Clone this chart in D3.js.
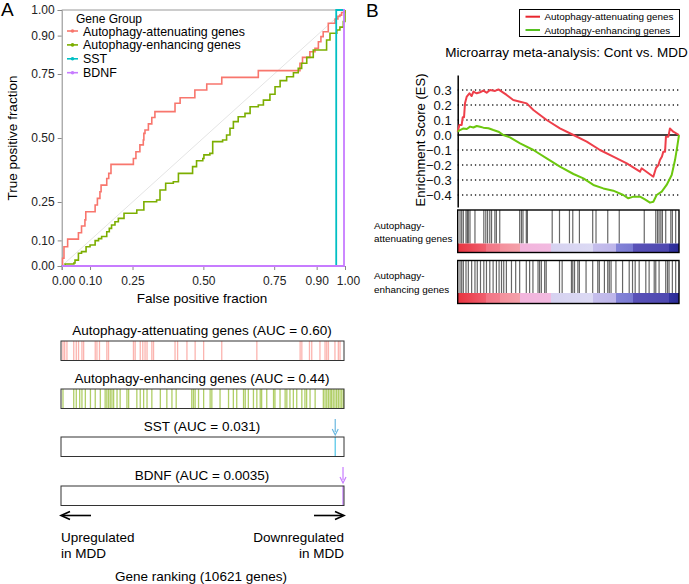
<!DOCTYPE html>
<html>
<head>
<meta charset="utf-8">
<script src="https://cdn.jsdelivr.net/npm/d3@7"></script>
<style>
  body { margin: 0; background: #fff; }
  svg { display: block; font-family: "Liberation Sans", Arial, sans-serif; }
</style>
</head>
<body>
<svg id="chart" width="689" height="584"></svg>
<script>
// ---------------- DATA ----------------
const rocTicks = [0, 0.1, 0.25, 0.5, 0.75, 0.9, 1];
const legendGroups = ["Autophagy-attenuating genes", "Autophagy-enhancing genes", "SST", "BDNF"];

// ROC step curves: [false positive fraction, true positive fraction]
const rocAttenuating = [[0,0],[0.003,0.03],[0.008,0.075],[0.021,0.105],[0.059,0.13],[0.07,0.156],[0.082,0.18],[0.085,0.212],[0.118,0.238],[0.126,0.264],[0.135,0.29],[0.139,0.316],[0.159,0.342],[0.166,0.362],[0.174,0.397],[0.253,0.42],[0.262,0.446],[0.276,0.473],[0.288,0.492],[0.29,0.518],[0.294,0.531],[0.306,0.555],[0.318,0.58],[0.329,0.603],[0.4,0.636],[0.418,0.657],[0.47,0.6875],[0.512,0.711],[0.565,0.737],[0.694,0.763],[0.841,0.792],[0.85,0.815],[0.876,0.837],[0.894,0.85],[0.906,0.876],[0.915,0.896],[0.923,0.915],[0.941,0.948],[0.965,0.965],[0.975,0.975],[0.982,0.98],[0.988,0.99],[1,1]];
const rocEnhancing = [[0,0],[0.012,0.008],[0.043,0.012],[0.047,0.023],[0.059,0.05],[0.07,0.056],[0.086,0.075],[0.1,0.082],[0.118,0.099],[0.13,0.107],[0.141,0.115],[0.159,0.134],[0.168,0.147],[0.176,0.16],[0.188,0.173],[0.2,0.186],[0.22,0.206],[0.265,0.219],[0.29,0.251],[0.335,0.258],[0.347,0.297],[0.367,0.323],[0.394,0.329],[0.412,0.362],[0.462,0.388],[0.476,0.411],[0.498,0.42],[0.502,0.434],[0.523,0.44],[0.533,0.486],[0.568,0.492],[0.582,0.512],[0.594,0.538],[0.606,0.564],[0.623,0.583],[0.647,0.596],[0.665,0.622],[0.694,0.629],[0.712,0.648],[0.735,0.671],[0.753,0.7],[0.771,0.724],[0.794,0.739],[0.818,0.755],[0.835,0.772],[0.847,0.792],[0.865,0.815],[0.888,0.844],[0.935,0.883],[0.947,0.909],[0.971,0.922],[0.982,0.933],[0.994,0.955],[1,1]];
const rocSST = [[0,0],[0.969,0],[0.969,1],[1,1]];
const rocBDNF = [[0,0],[0.9965,0],[0.9965,1],[1,1]];

// Gene ranking barcodes (fraction of 10621 ranked genes)
const rankAttenuating = [0.007,0.013,0.021,0.045,0.054,0.062,0.074,0.08,0.121,0.127,0.136,0.162,0.168,0.256,0.262,0.28,0.289,0.297,0.304,0.321,0.327,0.403,0.412,0.445,0.474,0.504,0.568,0.692,0.845,0.851,0.878,0.886,0.915,0.933,0.939,0.945,0.968,0.98,0.986];
const rankEnhancing = [0.007,0.045,0.054,0.066,0.074,0.086,0.104,0.121,0.139,0.156,0.162,0.168,0.174,0.18,0.186,0.198,0.209,0.233,0.239,0.268,0.28,0.292,0.304,0.321,0.351,0.374,0.392,0.407,0.462,0.468,0.474,0.486,0.504,0.527,0.533,0.562,0.592,0.609,0.621,0.645,0.651,0.662,0.68,0.692,0.704,0.709,0.727,0.751,0.756,0.774,0.792,0.798,0.809,0.821,0.833,0.851,0.862,0.868,0.88,0.898,0.927,0.933,0.939,0.945,0.951,0.956,0.962,0.968,0.974,0.98,0.986,0.992,0.998];
const rankSST = [0.969];
const rankBDNF = [0.9965];
const barcodeTitles = ["Autophagy-attenuating genes (AUC = 0.60)", "Autophagy-enhancing genes (AUC = 0.44)", "SST (AUC = 0.031)", "BDNF (AUC = 0.0035)"];

// GSEA enrichment score curves: [rank fraction, ES]
const esTicks = [0.3, 0.2, 0.1, 0.0, -0.1, -0.2, -0.3, -0.4];
const esAttenuating = [[0,0.022],[0.0075,0.067],[0.018,0.067],[0.0226,0.118],[0.0286,0.118],[0.033,0.211],[0.041,0.256],[0.053,0.278],[0.063,0.26],[0.071,0.289],[0.086,0.278],[0.101,0.285],[0.116,0.296],[0.131,0.282],[0.146,0.3],[0.169,0.294],[0.184,0.304],[0.199,0.289],[0.221,0.267],[0.251,0.233],[0.282,0.222],[0.312,0.211],[0.342,0.167],[0.402,0.1],[0.462,0.044],[0.523,0],[0.583,-0.044],[0.643,-0.1],[0.703,-0.144],[0.764,-0.189],[0.824,-0.244],[0.831,-0.222],[0.884,-0.278],[0.896,-0.22],[0.907,-0.2],[0.914,-0.167],[0.923,-0.144],[0.929,-0.111],[0.937,-0.111],[0.941,-0.011],[0.952,-0.011],[0.959,0.044],[0.974,0.022],[1,0]];
const esEnhancing = [[0,0.022],[0.0105,0.033],[0.026,0.044],[0.041,0.04],[0.056,0.056],[0.071,0.05],[0.086,0.06],[0.101,0.055],[0.116,0.049],[0.139,0.045],[0.161,0.033],[0.184,0.022],[0.206,0],[0.236,-0.016],[0.282,-0.056],[0.342,-0.1],[0.402,-0.156],[0.462,-0.211],[0.523,-0.26],[0.568,-0.289],[0.613,-0.333],[0.658,-0.356],[0.703,-0.371],[0.748,-0.4],[0.771,-0.422],[0.794,-0.411],[0.824,-0.411],[0.846,-0.429],[0.869,-0.451],[0.884,-0.445],[0.899,-0.4],[0.922,-0.378],[0.944,-0.333],[0.967,-0.267],[0.982,-0.167],[0.992,-0.078],[1,0]];
const gseaHitsAttenuating = [0.0105,0.018,0.0255,0.0375,0.0435,0.048,0.0555,0.078,0.118,0.127,0.135,0.145,0.153,0.168,0.175,0.19,0.28,0.288,0.295,0.31,0.315,0.427,0.46,0.505,0.52,0.55,0.61,0.625,0.678,0.73,0.843,0.895,0.903,0.91,0.918,0.925,0.94,0.963,0.97,0.985];
const gseaHitsEnhancing = [0.0105,0.018,0.0255,0.0375,0.048,0.063,0.078,0.0885,0.103,0.118,0.13,0.145,0.16,0.175,0.187,0.198,0.208,0.22,0.243,0.262,0.28,0.31,0.325,0.34,0.363,0.37,0.378,0.393,0.4,0.46,0.472,0.514,0.52,0.528,0.543,0.55,0.58,0.61,0.633,0.64,0.663,0.678,0.685,0.693,0.715,0.745,0.775,0.79,0.802,0.82,0.85,0.865,0.888,0.895,0.91,0.94,0.948,0.955,0.97,0.985];
const gseaLegend = ["Autophagy-attenuating genes", "Autophagy-enhancing genes"];
const gseaRowLabels = [["Autophagy-", "attenuating genes"], ["Autophagy-", "enhancing genes"]];
const rankBarStops = [[0,"#e8333f"],[0.13,"#f06070"],[0.13,"#f27585"],[0.19,"#f27f8e"],[0.19,"#f4909c"],[0.28,"#f4a0aa"],[0.28,"#f2b4dc"],[0.42,"#f2bae0"],[0.42,"#d6d2f0"],[0.61,"#dcdaf4"],[0.61,"#c6bfec"],[0.715,"#bdb5ea"],[0.715,"#8484d8"],[0.79,"#7a7ad2"],[0.79,"#5a52b8"],[0.955,"#4e48b0"],[0.955,"#3434a0"],[1,"#2a2a96"]];

// ---------------- DRAW ----------------
const svg = d3.select("#chart");
const rocColors = ["#F8766D", "#7CAE00", "#00BFC4", "#C77CFF"];

// Panel letters
svg.append("text").attr("x", 1).attr("y", 16).attr("font-size", 19).text("A");
svg.append("text").attr("x", 366).attr("y", 17).attr("font-size", 19).text("B");

// ---- Panel A: ROC ----
const xA = d3.scaleLinear([0, 1], [61.7, 345]);
const yA = d3.scaleLinear([0, 1], [266, 10]);
const gA = svg.append("g");

gA.append("line").attr("x1", xA(0)).attr("x2", xA(1)).attr("y1", yA(1)).attr("y2", yA(1))
  .attr("stroke", "#999").attr("stroke-width", 1);
gA.append("line").attr("x1", xA(0)).attr("y1", yA(0)).attr("x2", xA(1)).attr("y2", yA(1))
  .attr("stroke", "#e4e4e4").attr("stroke-width", 1);

const axL = gA.append("g").attr("transform", `translate(${xA(0)},0)`)
  .call(d3.axisLeft(yA).tickValues(rocTicks).tickFormat(d3.format(".2f")).tickSize(4).tickPadding(3));
const axB = gA.append("g").attr("transform", `translate(0,${yA(0)})`)
  .call(d3.axisBottom(xA).tickValues(rocTicks).tickFormat(d3.format(".2f")).tickSize(4).tickPadding(6));
[axL, axB].forEach(a => {
  a.selectAll("path").attr("stroke", "#888");
  a.selectAll("line").attr("stroke", "#888");
  a.selectAll("text").attr("font-size", 12).attr("fill", "#222").attr("font-family", "Liberation Sans, Arial, sans-serif");
});
axB.selectAll(".tick text").attr("dx", d => d === 0 ? 1.5 : (d === 1 ? 3 : 0));

const rocLine = d3.line().x(d => xA(d[0])).y(d => yA(d[1])).curve(d3.curveStepAfter);
[rocAttenuating, rocEnhancing, rocSST, rocBDNF].forEach((s, i) => {
  gA.append("path").attr("d", rocLine(s)).attr("fill", "none")
    .attr("stroke", rocColors[i]).attr("stroke-width", i < 2 ? 1.6 : 1.8);
});

svg.append("text").attr("transform", "translate(17,138) rotate(-90)").attr("text-anchor", "middle")
  .attr("font-size", 13.5).text("True positive fraction");
svg.append("text").attr("x", 202).attr("y", 303).attr("text-anchor", "middle")
  .attr("font-size", 13.5).text("False positive fraction");

// legend
const lg = svg.append("g");
lg.append("text").attr("x", 76).attr("y", 22.5).attr("font-size", 12).text("Gene Group");
legendGroups.forEach((name, i) => {
  const cy = 31 + i * 13.9;
  lg.append("line").attr("x1", 67).attr("x2", 78).attr("y1", cy).attr("y2", cy)
    .attr("stroke", rocColors[i]).attr("stroke-width", 1.6);
  lg.append("circle").attr("cx", 72.5).attr("cy", cy).attr("r", 1.8).attr("fill", rocColors[i]);
  lg.append("text").attr("x", 83).attr("y", cy + 4.5).attr("font-size", 12.4).text(name);
});

// ---- Panel A: rank barcodes ----
const xR = d3.scaleLinear([0, 1], [61, 344]);
const barcodeRows = [
  { ranks: rankAttenuating, color: rocColors[0], top: 341, title: barcodeTitles[0], op: 0.55 },
  { ranks: rankEnhancing, color: rocColors[1], top: 389, title: barcodeTitles[1], op: 0.6 },
  { ranks: rankSST, color: "#5bc8e8", top: 437, title: barcodeTitles[2], op: 1 },
  { ranks: rankBDNF, color: rocColors[3], top: 486, title: barcodeTitles[3], op: 1 }
];
const bh = 19.5;
barcodeRows.forEach(r => {
  svg.append("text").attr("x", 202).attr("y", r.top - 6).attr("text-anchor", "middle")
    .attr("font-size", 13.5).text(r.title);
  svg.append("g").selectAll("line").data(r.ranks).join("line")
    .attr("x1", d => xR(d)).attr("x2", d => xR(d)).attr("y1", r.top).attr("y2", r.top + bh)
    .attr("stroke", r.color).attr("stroke-opacity", r.op).attr("stroke-width", 1.3);
  svg.append("rect").attr("x", xR(0)).attr("y", r.top).attr("width", xR(1) - xR(0)).attr("height", bh)
    .attr("fill", "none").attr("stroke", "#333").attr("stroke-width", 1);
});

function downArrow(x, y1, y2, color) {
  svg.append("line").attr("x1", x).attr("x2", x).attr("y1", y1).attr("y2", y2 - 3)
    .attr("stroke", color).attr("stroke-width", 1.2);
  svg.append("path").attr("d", `M${x - 3},${y2 - 6} L${x},${y2} L${x + 3},${y2 - 6}`)
    .attr("fill", "none").attr("stroke", color).attr("stroke-width", 1.2);
}
downArrow(xR(rankSST[0]), 419, 435, "#6ab8e0");
downArrow(xR(rankBDNF[0]), 467, 483, "#C77CFF");

function hArrow(x1, x2, y) {
  const dir = Math.sign(x2 - x1);
  svg.append("line").attr("x1", x1).attr("x2", x2 - dir * 2).attr("y1", y).attr("y2", y)
    .attr("stroke", "#000").attr("stroke-width", 1.6);
  svg.append("path").attr("d", `M${x2 - dir * 9},${y - 4} L${x2},${y} L${x2 - dir * 9},${y + 4}`)
    .attr("fill", "none").attr("stroke", "#000").attr("stroke-width", 1.6);
}
hArrow(91, 61, 515.5);
hArrow(314, 344, 515.5);
svg.append("text").attr("x", 61).attr("y", 541.5).attr("font-size", 13.5).text("Upregulated");
svg.append("text").attr("x", 61).attr("y", 558).attr("font-size", 13.5).text("in MDD");
svg.append("text").attr("x", 344).attr("y", 541.5).attr("text-anchor", "end").attr("font-size", 13.5).text("Downregulated");
svg.append("text").attr("x", 344).attr("y", 558).attr("text-anchor", "end").attr("font-size", 13.5).text("in MDD");
svg.append("text").attr("x", 201).attr("y", 580.5).attr("text-anchor", "middle").attr("font-size", 13.5).text("Gene ranking (10621 genes)");

// ---- Panel B ----
const esColors = ["#ee3f4a", "#6cc70f"];
const legColors = ["#e8262e", "#55c020"];
svg.append("rect").attr("x", 519.5).attr("y", 9.5).attr("width", 160).attr("height", 27)
  .attr("fill", "#fff").attr("stroke", "#000").attr("stroke-width", 1);
gseaLegend.forEach((name, i) => {
  const cy = 16.7 + i * 13.3;
  svg.append("line").attr("x1", 525.5).attr("x2", 540).attr("y1", cy).attr("y2", cy)
    .attr("stroke", legColors[i]).attr("stroke-width", 2);
  svg.append("text").attr("x", 544.5).attr("y", cy + 3.5).attr("font-size", 9.9).text(name);
});
svg.append("text").attr("x", 566.5).attr("y", 56.5).attr("text-anchor", "middle")
  .attr("font-size", 13.5).text("Microarray meta-analysis: Cont vs. MDD");

const xE = d3.scaleLinear([0, 1], [457.7, 679]);
const yE = d3.scaleLinear([-0.48, 0.4], [207, 75]);
const gB = svg.append("g");
gB.selectAll("line.grid").data(esTicks.filter(t => t !== 0)).join("line").attr("class", "grid")
  .attr("x1", xE(0)).attr("x2", xE(1)).attr("y1", d => yE(d)).attr("y2", d => yE(d))
  .attr("stroke", "#222").attr("stroke-width", 1.3).attr("stroke-dasharray", "1.3,3");
const axE = gB.append("g").attr("transform", `translate(${xE(0)},0)`)
  .call(d3.axisLeft(yE).tickValues(esTicks).tickFormat(d3.format(".1f")).tickSize(0).tickPadding(6));
axE.select("path").attr("stroke", "#000").attr("stroke-width", 1.5);
axE.selectAll("text").attr("font-size", 13).attr("fill", "#111").attr("font-family", "Liberation Sans, Arial, sans-serif");
gB.append("line").attr("x1", xE(0)).attr("x2", xE(1)).attr("y1", yE(0)).attr("y2", yE(0))
  .attr("stroke", "#000").attr("stroke-width", 1.3);
const esLine = d3.line().x(d => xE(d[0])).y(d => yE(d[1]));
[esAttenuating, esEnhancing].forEach((s, i) => {
  gB.append("path").attr("d", esLine(s)).attr("fill", "none")
    .attr("stroke", esColors[i]).attr("stroke-width", 2).attr("stroke-linejoin", "round");
});
svg.append("text").attr("transform", "translate(425,140) rotate(-90)").attr("text-anchor", "middle")
  .attr("font-size", 13).text("Enrichment Score (ES)");

const grad = svg.append("defs").append("linearGradient").attr("id", "rankGrad")
  .attr("x1", "0%").attr("x2", "100%").attr("y1", "0%").attr("y2", "0%");
rankBarStops.forEach(s => grad.append("stop").attr("offset", s[0]).attr("stop-color", s[1]));

const gseaRows = [
  { hits: gseaHitsAttenuating, top: 210, bottom: 252.5, bar: 243.5, label: gseaRowLabels[0] },
  { hits: gseaHitsEnhancing, top: 260.5, bottom: 303.5, bar: 293, label: gseaRowLabels[1] }
];
gseaRows.forEach(r => {
  svg.append("g").selectAll("line").data(r.hits).join("line")
    .attr("x1", d => xE(d)).attr("x2", d => xE(d)).attr("y1", r.top).attr("y2", r.bar)
    .attr("stroke", "#000").attr("stroke-opacity", 0.6).attr("stroke-width", 1.2);
  svg.append("rect").attr("x", xE(0)).attr("y", r.bar).attr("width", xE(1) - xE(0)).attr("height", r.bottom - r.bar)
    .attr("fill", "url(#rankGrad)");
  svg.append("rect").attr("x", xE(0)).attr("y", r.top).attr("width", xE(1) - xE(0)).attr("height", r.bottom - r.top)
    .attr("fill", "none").attr("stroke", "#000").attr("stroke-width", 1.4);
  svg.append("text").attr("x", 374).attr("y", r.top + 18.5).attr("font-size", 9.9).text(r.label[0]);
  svg.append("text").attr("x", 374).attr("y", r.top + 32).attr("font-size", 9.9).text(r.label[1]);
});
</script>
</body>
</html>
